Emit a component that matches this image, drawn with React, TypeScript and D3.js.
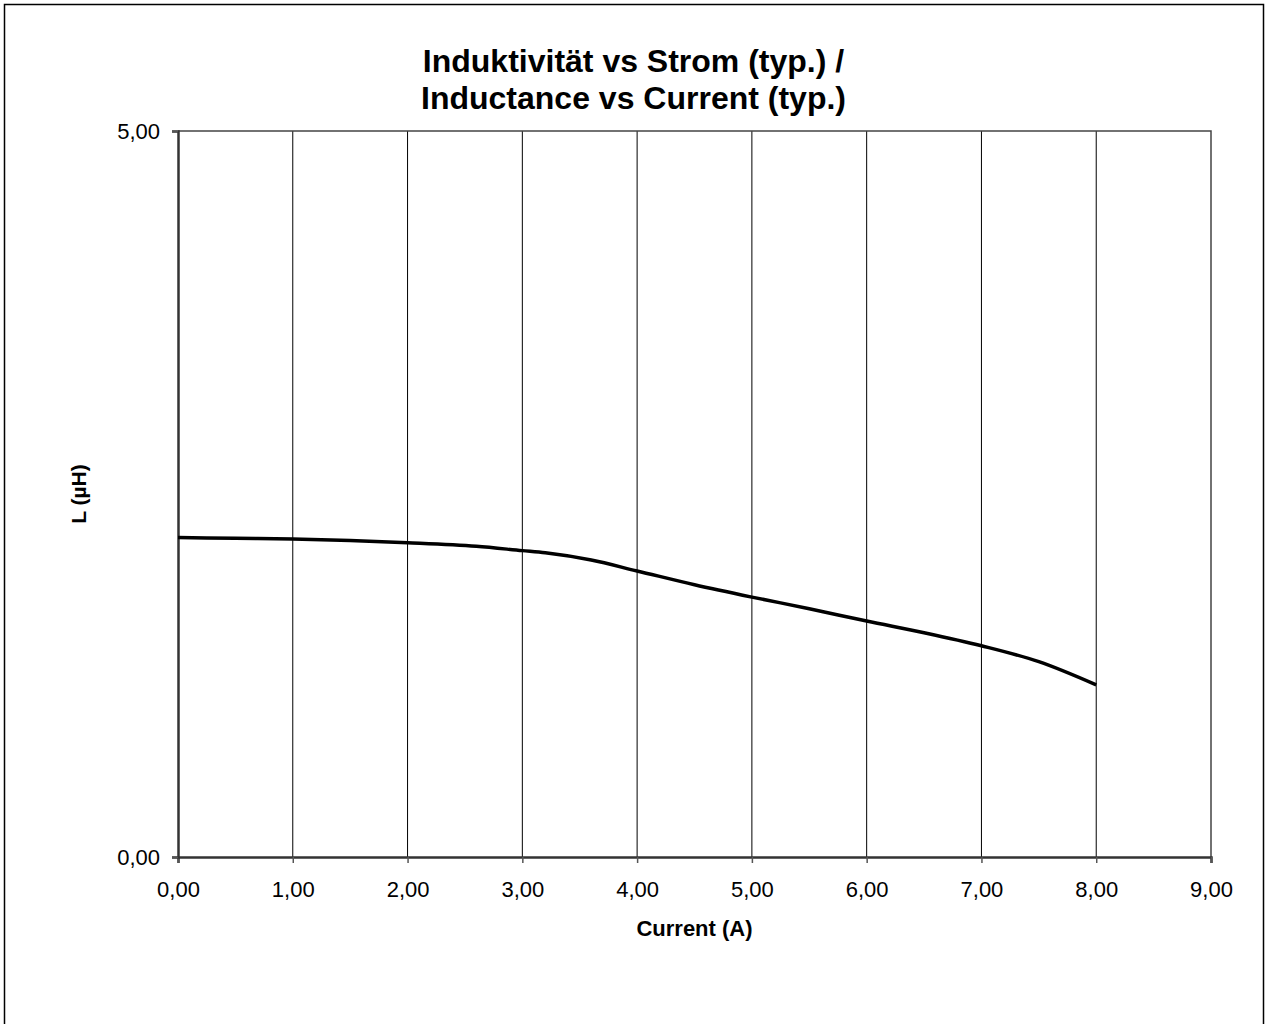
import * as d3 from "d3";
import { useEffect, useRef } from "react";

// current (A) and inductance (µH)
const currentA = [0, 0.5, 1, 1.5, 2, 2.6, 3, 3.2, 3.6, 4, 4.5, 5, 5.5, 6, 6.5, 7, 7.5, 8];
const inductanceUH = [2.2, 2.195, 2.19, 2.18, 2.165, 2.14, 2.11, 2.095, 2.045, 1.97, 1.875, 1.79, 1.71, 1.625, 1.545, 1.455, 1.345, 1.185];
const xTicks = [0, 1, 2, 3, 4, 5, 6, 7, 8, 9];
const yTicks = [0, 5];
const titleLines = ["Induktivität vs Strom (typ.) /", "Inductance vs Current (typ.)"];

const W = 1267;
const H = 1024;
const font = "'Liberation Sans', Arial, sans-serif";

const App = () => {
  const svgRef = useRef<SVGSVGElement | null>(null);

  useEffect(() => {
    const svg = d3.select(svgRef.current);
    svg.selectAll("*").remove();

    const left = 178, right = 1211, top = 131, bottom = 857;
    const x = d3.scaleLinear().domain([0, 9]).range([left, right]);
    const y = d3.scaleLinear().domain([0, 5]).range([bottom, top]);
    const fmt = (v: number) => v.toFixed(2).replace(".", ",");

    // outer frame
    svg.append("rect")
      .attr("x", 4.5).attr("y", 4.5)
      .attr("width", 1259).attr("height", 1030)
      .attr("fill", "white").attr("stroke", "#000").attr("stroke-width", 1.5);

    // title (centred on the whole chart)
    svg.append("g").selectAll("text")
      .data(titleLines)
      .enter()
      .append("text")
      .attr("x", W / 2)
      .attr("y", (d, i) => 72 + i * 37)
      .attr("text-anchor", "middle")
      .style("font-family", font)
      .style("font-weight", "bold")
      .style("font-size", "32px")
      .text(d => d);

    // vertical grid lines
    svg.append("g").selectAll("line")
      .data(xTicks.slice(1, -1))
      .enter()
      .append("line")
      .attr("x1", d => x(d)).attr("x2", d => x(d))
      .attr("y1", top).attr("y2", bottom)
      .attr("stroke", "#000").attr("stroke-width", 1);

    // plot border top/right
    svg.append("path")
      .attr("d", `M${left},${top}H${right}V${bottom}`)
      .attr("fill", "none").attr("stroke", "#444").attr("stroke-width", 1.5);

    // x axis
    const xAxis = svg.append("g")
      .attr("transform", `translate(0,${bottom})`)
      .call(d3.axisBottom(x).tickValues(xTicks).tickFormat(d => fmt(+d)).tickSize(6).tickPadding(18));
    xAxis.select(".domain").attr("stroke", "#333").attr("stroke-width", 2.5);
    xAxis.selectAll(".tick line").attr("stroke", "#555").attr("stroke-width", 1.5);
    xAxis.selectAll(".tick text")
      .style("font-family", font).style("font-size", "22px").attr("fill", "#000");

    // y axis
    const yAxis = svg.append("g")
      .attr("transform", `translate(${left},0)`)
      .call(d3.axisLeft(y).tickValues(yTicks).tickFormat(d => fmt(+d)).tickSize(6).tickPadding(12));
    yAxis.select(".domain").attr("stroke", "#333").attr("stroke-width", 2.5);
    yAxis.selectAll(".tick line").attr("stroke", "#555").attr("stroke-width", 1.5);
    yAxis.selectAll(".tick text")
      .style("font-family", font).style("font-size", "22px").attr("fill", "#000");

    // axis titles
    svg.append("text")
      .attr("x", (left + right) / 2).attr("y", 936)
      .attr("text-anchor", "middle")
      .style("font-family", font).style("font-weight", "bold").style("font-size", "22px")
      .text("Current (A)");

    svg.append("text")
      .attr("transform", `translate(86,${(top + bottom) / 2}) rotate(-90)`)
      .attr("text-anchor", "middle")
      .style("font-family", font).style("font-weight", "bold").style("font-size", "21px")
      .text("L (µH)");

    // curve
    const pts: [number, number][] = currentA.map((c, i) => [c, inductanceUH[i]]);
    const line = d3.line<[number, number]>()
      .x(d => x(d[0]))
      .y(d => y(d[1]))
      .curve(d3.curveMonotoneX);
    svg.append("path")
      .datum(pts)
      .attr("d", line)
      .attr("fill", "none")
      .attr("stroke", "#000")
      .attr("stroke-width", 3.5);
  }, []);

  return (
    <svg ref={svgRef} width={W} height={H}
      style={{ position: "absolute", left: 0, top: 0, background: "white" }}></svg>
  );
};

export default App;
